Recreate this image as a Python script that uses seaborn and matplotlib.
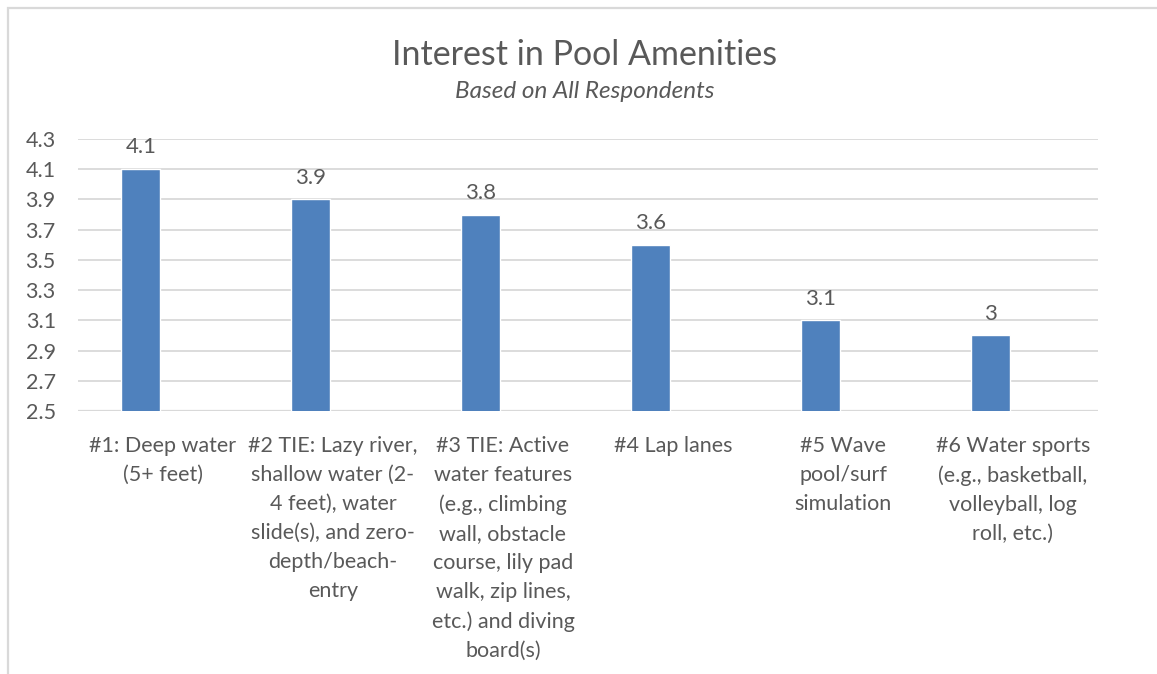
# Interest in pool amenities - bar chart recreation

import numpy as np
import pandas as pd
import matplotlib
matplotlib.use('Agg')
import matplotlib.pyplot as plt
import seaborn as sns
from matplotlib.patches import Rectangle

categories = [
    '#1: Deep water\n(5+ feet)',
    '#2 TIE: Lazy river,\nshallow water (2-\n4 feet), water\nslide(s), and zero-\ndepth/beach-\nentry',
    '#3 TIE: Active\nwater features\n(e.g., climbing\nwall, obstacle\ncourse, lily pad\nwalk, zip lines,\netc.) and diving\nboard(s)',
    '#4 Lap lanes',
    '#5 Wave\npool/surf\nsimulation',
    '#6 Water sports\n(e.g., basketball,\nvolleyball, log\nroll, etc.)',
]
scores = [4.1, 3.9, 3.8, 3.6, 3.1, 3.0]
value_labels = ['4.1', '3.9', '3.8', '3.6', '3.1', '3']
y_ticks = [2.5, 2.7, 2.9, 3.1, 3.3, 3.5, 3.7, 3.9, 4.1, 4.3]

BAR_COLOR = '#4F81BD'
TEXT_COLOR = '#595959'
GRID_COLOR = '#D9D9D9'

sns.set_style('white')
plt.rcParams['font.family'] = ['Lato', 'DejaVu Sans']

df = pd.DataFrame({'category': categories, 'score': scores})

fig = plt.figure(figsize=(11.57, 6.74), dpi=100)
ax = fig.add_axes([0.0674, 0.3902, 0.8816, 0.4036])

sns.barplot(data=df, x='category', y='score', color=BAR_COLOR,
            width=0.23, saturation=1, ax=ax)

# Excel put the bars slightly left of the category centre
for patch in ax.patches:
    patch.set_x(patch.get_x() - 0.13)

ax.set_ylim(2.5, 4.3)
ax.set_xlim(-0.5, len(categories) - 0.5)
ax.set_yticks(y_ticks)
ax.set_yticklabels([f'{t:.1f}' for t in y_ticks], fontsize=15.5, color=TEXT_COLOR)
ax.set_xticks(range(len(categories)))
ax.set_xticklabels(categories, fontsize=15.5, color=TEXT_COLOR, linespacing=1.56,
                   va='top')
ax.tick_params(axis='x', length=0, pad=18)
ax.tick_params(axis='y', length=0, pad=16)
ax.set_xlabel('')
ax.set_ylabel('')

ax.grid(axis='y', color=GRID_COLOR, linewidth=1.3)
ax.set_axisbelow(True)
for side in ['top', 'right', 'left', 'bottom']:
    ax.spines[side].set_visible(False)
ax.axhline(2.5, color=GRID_COLOR, linewidth=1.6, zorder=0.5)

for patch, lab in zip(ax.patches, value_labels):
    ax.annotate(lab, (patch.get_x() + patch.get_width() / 2, patch.get_height()),
                xytext=(0, 8.5), textcoords='offset points', ha='center', va='bottom',
                fontsize=16, color=TEXT_COLOR)

fig.text(0.505, 0.918, 'Interest in Pool Amenities', ha='center', va='center',
         fontsize=24.5, color=TEXT_COLOR)
fig.text(0.505, 0.864, 'Based on All Respondents', ha='center', va='center',
         fontsize=17.5, style='italic', color=TEXT_COLOR)

# chart area border (cropped at right and bottom)
fig.patches.append(Rectangle((8 / 1157, -0.05), 1.2, 0.988 + 0.05,
                             transform=fig.transFigure, fill=False,
                             edgecolor=GRID_COLOR, linewidth=1.6))

fig.savefig('out.png', dpi=100)
